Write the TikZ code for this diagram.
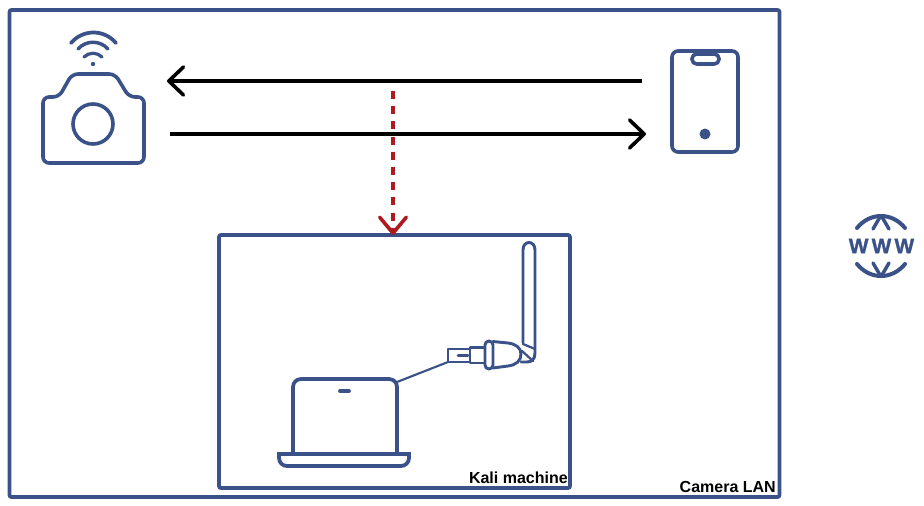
\documentclass[tikz,border=0pt]{standalone}
\usepackage{fontspec}
\setmainfont{Liberation Sans}
\newfontfamily\wwwfont[FakeBold=1.5]{Liberation Sans Bold}
\usetikzlibrary{arrows.meta}
\definecolor{navy}{HTML}{3A5288}
\definecolor{darkred}{HTML}{AE1A1F}
\tikzset{
  icon/.style={draw=navy,line width=2.7pt,line cap=round,line join=round,rounded corners=4pt},
  thin icon/.style={draw=navy,line width=2.2pt,line cap=round,line join=round},
  framebox/.style={draw=navy,line width=2.8pt,rounded corners=1.5pt,inner sep=0pt,outer sep=0pt},
  caption/.style={font=\bfseries\fontsize{12}{14}\selectfont,text=black,inner sep=0pt,anchor=south east},
  flow/.style={draw=black,line width=2.7pt,-{Straight Barb[length=11pt,width=21pt,line width=2.7pt,round]}},
  sniff/.style={draw=darkred,line width=2.7pt,dash pattern=on 6pt off 5.4pt,-{Straight Barb[length=12pt,width=20pt,line width=2.7pt,round,sep=0pt]}},
  point/.style={inner sep=0pt,minimum size=0pt}
}
\begin{document}
\begin{tikzpicture}[x=0.75pt,y=-0.75pt]
\useasboundingbox (0,0) rectangle (924,506);
% frames
\node[framebox,minimum width=577.5pt,minimum height=365.25pt,anchor=north west] (lan) at (9.5,10) {};
\node[framebox,minimum width=263.25pt,minimum height=189.75pt,anchor=north west] (kali) at (219,235) {};
\node[caption] (lanlabel) at (776,493) {Camera LAN};
\node[caption] (kalilabel) at (568,484) {Kali machine};
% camera
\node[point] (camera) at (93,124) {};
\draw[icon,rounded corners=4.5pt] (43,130) -- (43,97) -- (59,97) -- (72,74) -- (115,74) -- (129,97) -- (144,97) -- (144,163) -- (43,163) -- (43,130) -- cycle;
\draw[thin icon,line width=2.7pt] (camera) circle (20);
\fill[navy] (93,64) circle (2.2);
\draw[thin icon,line width=2.8pt] (71,43) .. controls (83,29) and (104,29) .. (116,43);
\draw[thin icon,line width=2.6pt] (78,49) .. controls (86,40) and (100,40) .. (108,49);
\draw[thin icon,line width=2.4pt] (84,57) .. controls (89,52) and (97,52) .. (102,57);
% phone
\node[point] (phone) at (705,101) {};
\draw[icon,rounded corners=4.5pt] (672,51) rectangle (738,152);
\draw[icon,rounded corners=3.5pt] (692,54) rectangle (719,64);
\fill[navy] (705,134) circle (5.5);
% flows
\coordinate (fromphone) at (642,81);
\coordinate (tocam) at (167,81);
\coordinate (fromcam) at (170,134);
\coordinate (tophone) at (646,134);
\draw[flow] (fromphone) -- (tocam);
\draw[flow] (fromcam) -- (tophone);
\coordinate (snoop) at (393,91);
\draw[sniff] (snoop) -- (snoop |- kali.north);
% laptop
\node[point] (laptop) at (345,420) {};
\draw[icon,line width=2.8pt,rounded corners=6pt] (293,454) -- (293,379) -- (397,379) -- (397,454);
\draw[icon,line width=2.8pt,sharp corners,line join=miter] (279,454) {[rounded corners=6pt] -- (279,466) -- (409,466)} -- (409,454) -- cycle;
\draw[thin icon,line width=2.8pt] (340,391) -- (349,391);
% usb dongle
\coordinate (lapport) at (397,382);
\coordinate (usbport) at (448,362);
\draw[draw=navy,line width=1.6pt] (lapport) -- (usbport);
\draw[thin icon] (470,349) -- (448,349) -- (448,362) -- (470,362);
\draw[thin icon] (458,355.5) -- (468,355.5);
\draw[thin icon] (470,347.5) rectangle (485,363);
\draw[thin icon,rounded corners=3pt] (493,341) -- (485,341) -- (485,369) -- (493,369) -- cycle;
\draw[thin icon] (493,341.5) -- (508,343) .. controls (516,344) and (521,348) .. (521,354) .. controls (521,361) and (516,365) .. (508,366) -- (493,368);
\draw[thin icon] (523,343) -- (523,250) .. controls (523,240) and (535,240) .. (535,250) -- (535,353) .. controls (535,359) and (532,362) .. (527,362) -- (521,362);
\draw[thin icon,line width=1.7pt] (523,344) -- (535,349);
\draw[thin icon,line width=1.7pt] (522,351) -- (533,361);
% www globe
\node[point] (www) at (881,246) {};
\draw[thin icon,line width=3pt] (857,228) .. controls (870,212) and (892,212) .. (905,228);
\draw[thin icon,line width=3pt] (857,264) .. controls (870,280) and (892,280) .. (905,264);
\draw[thin icon,line width=2.6pt] (873,229) -- (880,217) -- (882,217) -- (889,229);
\draw[thin icon,line width=2.6pt] (873,263) -- (880,275) -- (882,275) -- (889,263);
\node[font=\wwwfont\fontsize{15.5}{16}\selectfont,text=navy,inner sep=0pt] (wwwtext) at (881.5,246) {W\kern2.5pt W\kern2.5pt W};
\end{tikzpicture}
\end{document}
